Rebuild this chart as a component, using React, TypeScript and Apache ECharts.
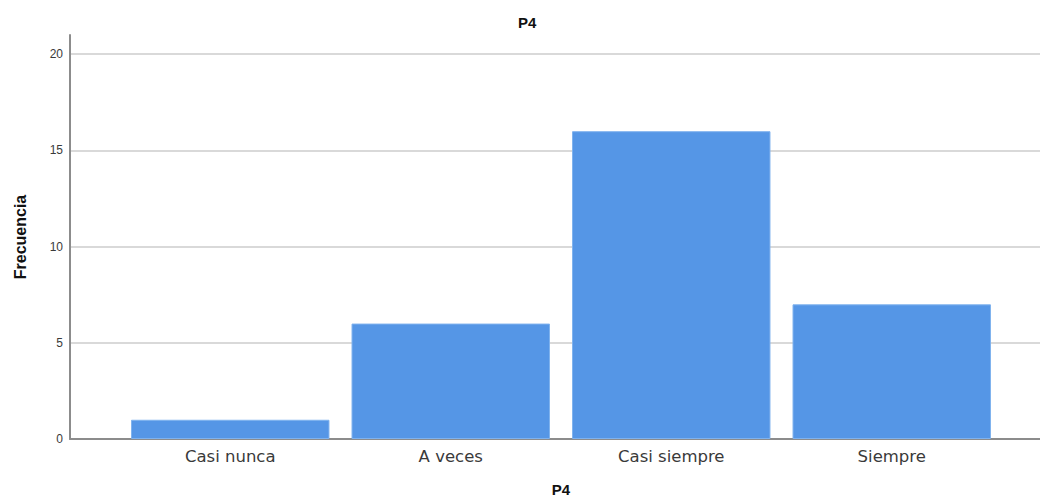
import React, { useEffect, useRef } from "react";
import * as echarts from "echarts";

const categories = ["Casi nunca", "A veces", "Casi siempre", "Siempre"];
const frecuencia = [1, 6, 16, 7];
const yTicks = [0, 5, 10, 15, 20];
const titleText = "P4";
const xName = "P4";
const yName = "Frecuencia";

export default function App() {
  const ref = useRef<HTMLDivElement>(null);
  useEffect(() => {
    if (!ref.current) return;
    const chart = echarts.init(ref.current, undefined, { renderer: "svg" });
    const top = 35;
    const bottom = 59;
    const yMax = 21;
    chart.setOption({
      animation: false,
      backgroundColor: "#ffffff",
      title: {
        text: titleText,
        left: 513,
        top: 10,
        textStyle: { fontFamily: "Liberation Sans, Arial, sans-serif", fontSize: 15, fontWeight: "bold", color: "#111" },
      },
      grid: [
        { left: 70, right: 0, top, bottom, containLabel: false, outerBoundsMode: "none" },
        { left: 120, right: 38, top, bottom, containLabel: false, outerBoundsMode: "none" },
      ],
      xAxis: [
        {
          gridIndex: 0,
          type: "value",
          min: 0,
          max: 1,
          axisLine: { show: true, lineStyle: { color: "#8c8c8c", width: 2 } },
          axisTick: { show: false },
          axisLabel: { show: false },
          splitLine: { show: false },
          name: xName,
          nameLocation: "middle",
          nameGap: 43,
          nameTextStyle: { fontFamily: "Liberation Sans, Arial, sans-serif", fontSize: 15, fontWeight: "bold", color: "#111", padding: [0, 0, 0, 12] },
        },
        {
          gridIndex: 1,
          type: "category",
          data: categories,
          axisLine: { show: false },
          axisTick: { show: false },
          axisLabel: { fontFamily: "DejaVu Sans, Liberation Sans, sans-serif", fontSize: 16.5, color: "#3a3a3a", margin: 9 },
          splitLine: { show: false },
        },
      ],
      yAxis: [
        {
          gridIndex: 0,
          type: "value",
          min: 0,
          max: yMax,
          interval: 5,
          axisLine: { show: true, lineStyle: { color: "#8c8c8c", width: 2 } },
          axisTick: { show: false },
          axisLabel: {
            fontFamily: "Liberation Sans, Arial, sans-serif",
            fontSize: 12,
            color: "#3a3a3a",
            margin: 7,
            padding: [7, 0, 0, 0],
            showMaxLabel: false,
            formatter: (v: number) => (yTicks.includes(v) ? String(v) : ""),
          },
          splitLine: { show: true, showMinLine: false, showMaxLine: false, lineStyle: { color: "#d9d9d9", width: 2 } },
          name: yName,
          nameLocation: "middle",
          nameGap: 42,
          nameRotate: 90,
          nameTextStyle: { fontFamily: "Liberation Sans Narrow, Arial Narrow, Liberation Sans, sans-serif", fontSize: 16, fontWeight: "bold", color: "#111" },
        },
        {
          gridIndex: 1,
          type: "value",
          min: 0,
          max: yMax,
          show: false,
        },
      ],
      series: [
        {
          type: "bar",
          xAxisIndex: 1,
          yAxisIndex: 1,
          data: frecuencia,
          barCategoryGap: "10%",
          itemStyle: { color: "#5596e6", borderColor: "#7fb2ee", borderWidth: 1 },
        },
      ],
    });
    return () => chart.dispose();
  }, []);
  return <div ref={ref} style={{ width: 1040, height: 498, position: "absolute", left: 0, top: 0 }} />;
}
